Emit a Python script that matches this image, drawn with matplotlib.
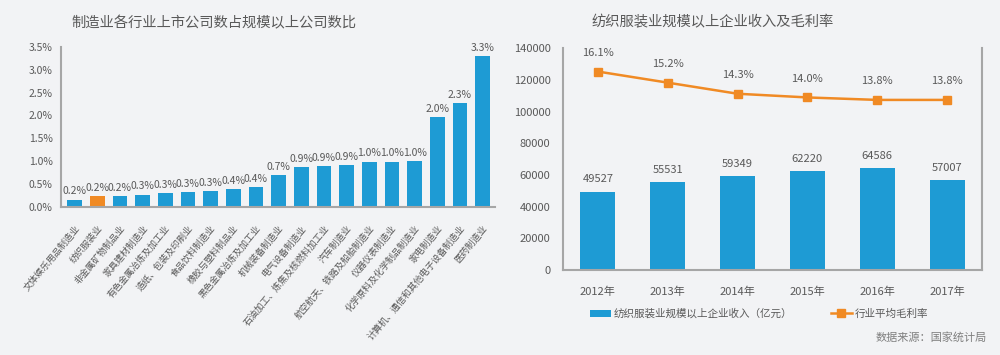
import numpy as np
import matplotlib
matplotlib.use('Agg')
import matplotlib.pyplot as plt

plt.rcParams['font.family'] = ['Noto Sans CJK SC', 'DejaVu Sans']

# left chart data
industries = ['文体娱乐用品制造业', '纺织服装业', '非金属矿物制品业', '家具建材制造业',
              '有色金属冶炼及加工业', '造纸、包装及印刷业', '食品饮料制造业', '橡胶与塑料制品业',
              '黑色金属冶炼及加工业', '机械装备制造业', '电气设备制造业',
              '石油加工、炼焦及核燃料加工业', '汽车制造业', '航空航天、铁路及船舶制造业',
              '仪器仪表制造业', '化学原料及化学制品制造业', '家电制造业',
              '计算机、通信和其他电子设备制造业', '医药制造业']
ratio = [0.16, 0.23, 0.24, 0.27, 0.30, 0.32, 0.34, 0.39, 0.43, 0.69, 0.87,
         0.89, 0.92, 0.99, 0.99, 1.01, 1.96, 2.27, 3.29]
highlight = '纺织服装业'

# right chart data
years = ['2012年', '2013年', '2014年', '2015年', '2016年', '2017年']
revenue = [49527, 55531, 59349, 62220, 64586, 57007]
margin = [16.1, 15.2, 14.3, 14.0, 13.8, 13.8]

blue = '#1e9bd4'
orange = '#f08a24'
gray = '#a6a6a6'
txt = '#595959'

fig = plt.figure(figsize=(10, 3.55), dpi=100)
fig.patch.set_facecolor('#f2f3f5')

# ---- left chart ----
ax1 = fig.add_axes([0.061, 0.417, 0.434, 0.451])
ax1.set_facecolor('none')
x = np.arange(len(industries))
colors = [orange if n == highlight else blue for n in industries]
ax1.bar(x, ratio, width=0.65, color=colors)
for xi, v in zip(x, ratio):
    ax1.text(xi, v + 0.07, f'{v:.1f}%', ha='center', va='bottom', fontsize=7.5, color=txt)
ax1.set_ylim(0, 3.5)
ax1.set_xlim(-0.6, len(industries) - 0.45)
ax1.set_yticks(np.arange(0, 3.51, 0.5))
ax1.set_yticklabels([f'{t:.1f}%' for t in np.arange(0, 3.51, 0.5)])
ax1.set_xticks(x)
ax1.set_xticklabels(industries, rotation=50, ha='right', rotation_mode='anchor')
ax1.tick_params(length=0, labelsize=7.5, colors=txt)
ax1.tick_params(axis='x', labelsize=6.6, pad=12)
ax1.tick_params(axis='y', pad=6)
for s in ['top', 'right']:
    ax1.spines[s].set_visible(False)
for s in ['left', 'bottom']:
    ax1.spines[s].set_color(gray)
    ax1.spines[s].set_linewidth(1.5)
fig.text(0.214, 0.935, '制造业各行业上市公司数占规模以上公司数比', ha='center', va='center',
         fontsize=10.3, color=txt)

# ---- right chart ----
ax2 = fig.add_axes([0.563, 0.2394, 0.419, 0.625])
ax2.set_facecolor('none')
xr = np.arange(len(years))
ax2.bar(xr, revenue, width=0.5, color=blue, label='纺织服装业规模以上企业收入（亿元）')
for xi, v in zip(xr, revenue):
    ax2.text(xi, v + 4500, f'{v}', ha='center', va='bottom', fontsize=8, color=txt)
ax2.set_ylim(0, 140000)
ax2.set_xlim(-0.5, len(years) - 0.5)
ax2.set_yticks(np.arange(0, 140001, 20000))
ax2.set_xticks(xr)
ax2.set_xticklabels(years)
ax2.tick_params(length=0, labelsize=8, colors=txt)
ax2.tick_params(axis='y', pad=9)
ax2.tick_params(axis='x', pad=12)
ax2.spines['top'].set_visible(False)
for s in ['left', 'bottom', 'right']:
    ax2.spines[s].set_color(gray)
    ax2.spines[s].set_linewidth(1.5)

ax3 = ax2.twinx()
ax3.plot(xr, margin, color=orange, lw=1.8, marker='s', ms=6, label='行业平均毛利率')
for xi, v in zip(xr, margin):
    ax3.text(xi, v + 1.1, f'{v:.1f}%', ha='center', va='bottom', fontsize=8, color=txt)
ax3.set_ylim(0, 18)
ax3.set_yticks([])
for s in ['top', 'left', 'bottom', 'right']:
    ax3.spines[s].set_visible(False)

h1, l1 = ax2.get_legend_handles_labels()
h2, l2 = ax3.get_legend_handles_labels()
fig.legend(h1 + h2, l1 + l2, loc='center', bbox_to_anchor=(0.759, 0.116), ncol=2,
           frameon=False, fontsize=7.6, labelcolor=txt, columnspacing=3.6,
           handlelength=2.0, handletextpad=0.3)

fig.text(0.713, 0.938, '纺织服装业规模以上企业收入及毛利率', ha='center', va='center',
         fontsize=10.3, color=txt)
fig.text(0.987, 0.05, '数据来源：国家统计局', ha='right', va='center', fontsize=8,
         color='#7f7f7f', style='italic')

fig.savefig('out.png', dpi=100, facecolor=fig.get_facecolor())
